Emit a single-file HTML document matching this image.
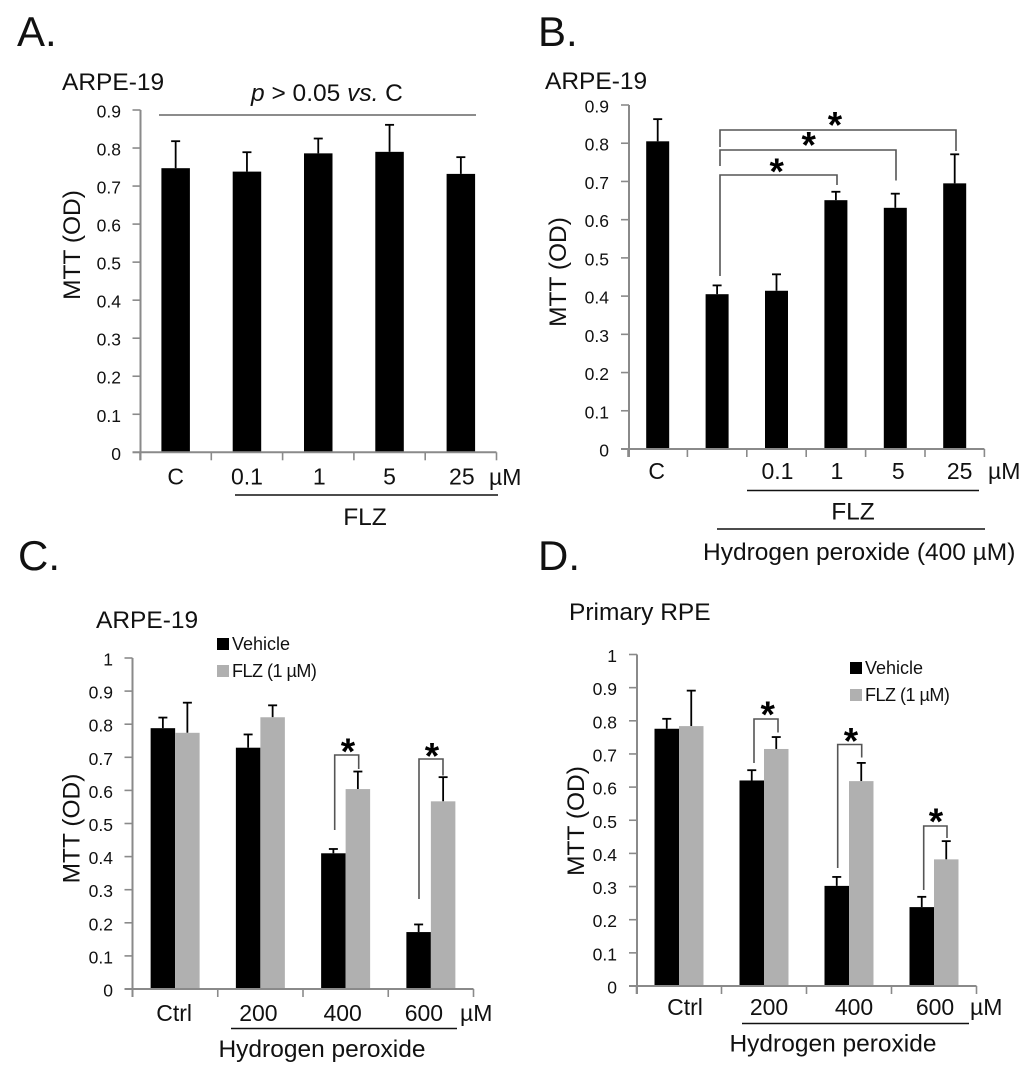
<!DOCTYPE html>
<html lang="en">
<head>
<meta charset="utf-8">
<title>MTT assay bar charts</title>
<style>
html,body{margin:0;padding:0;background:#fff;width:1024px;height:1066px;overflow:hidden}
svg{display:block}
text{font-family:"Liberation Sans",sans-serif;fill:#111}
.head{font-size:42px}
.sub{font-size:24.5px}
.ytitle{font-size:24.5px;text-anchor:middle}
.xl{font-size:23px}
.ann{font-size:24.5px}
.leg{font-size:18px}
.legflz{font-size:18px;letter-spacing:-0.5px}
.star{font-size:37px;font-weight:bold;text-anchor:middle;fill:#000}
.rule{stroke:#111;stroke-width:1.6;fill:none}
.brk{stroke:#555;stroke-width:1.6;fill:none}
</style>
</head>
<body>
<svg id="figure" xmlns="http://www.w3.org/2000/svg" width="1024" height="1066" viewBox="0 0 1024 1066">
  <g id="panel-a">
    <text class="head" x="17" y="46">A.</text>
    <text class="sub" x="62" y="90">ARPE-19</text>
    <text class="sub" x="251" y="101"><tspan font-style="italic">p</tspan> &gt; 0.05 <tspan font-style="italic">vs.</tspan> C</text>
    <line x1="159" y1="115" x2="476" y2="115" stroke="#666" stroke-width="1.5"/>
    <text class="ytitle" transform="translate(80 245) rotate(-90)">MTT (OD)</text>
    <g id="marks-a"></g>
    <text class="xl" x="489" y="485">µM</text>
    <line class="rule" x1="235" y1="495" x2="498" y2="495"/>
    <text class="sub" x="365" y="525" text-anchor="middle">FLZ</text>
  </g>

  <g id="panel-b">
    <text class="head" x="538" y="46">B.</text>
    <text class="sub" x="545" y="89">ARPE-19</text>
    <text class="ytitle" transform="translate(566 272) rotate(-90)">MTT (OD)</text>
    <g id="marks-b"></g>
    <polyline class="brk" points="720,276 720,175 837,175 837,185"/>
    <polyline class="brk" points="720,166 720,150 896,150 896,180.5"/>
    <polyline class="brk" points="720,147 720,130 956,130 956,151"/>
    <text class="star" x="776.7" y="184">*</text>
    <text class="star" x="808.7" y="157.5">*</text>
    <text class="star" x="835" y="137.5">*</text>
    <text class="xl" x="988" y="479">µM</text>
    <line class="rule" x1="747" y1="490.5" x2="979" y2="490.5"/>
    <text class="sub" x="853" y="519.5" text-anchor="middle">FLZ</text>
    <line class="rule" x1="717" y1="529" x2="985" y2="529"/>
    <text class="ann" x="703" y="560">Hydrogen peroxide (400 µM)</text>
  </g>

  <g id="panel-c">
    <text class="head" x="18" y="570">C.</text>
    <text class="sub" x="96" y="628">ARPE-19</text>
    <text class="ytitle" transform="translate(79.5 828.5) rotate(-90)">MTT (OD)</text>
    <g id="marks-c"></g>
    <g>
      <rect x="217" y="638" width="12" height="12" fill="#000"/>
      <text class="leg" x="232" y="650">Vehicle</text>
      <rect x="217" y="665" width="12" height="12" fill="#b0b0b0"/>
      <text class="legflz" x="232" y="677">FLZ (1 µM)</text>
    </g>
    <polyline class="brk" points="334.7,830 334.7,755 358.7,755 358.7,769"/>
    <polyline class="brk" points="419,899 419,759 443,759 443,775.5"/>
    <text class="star" x="348" y="764">*</text>
    <text class="star" x="432" y="768.5">*</text>
    <text class="xl" x="460" y="1021">µM</text>
    <line class="rule" x1="231" y1="1028.5" x2="457" y2="1028.5"/>
    <text class="ann" x="322" y="1057" text-anchor="middle">Hydrogen peroxide</text>
  </g>

  <g id="panel-d">
    <text class="head" x="538" y="570">D.</text>
    <text class="sub" x="569" y="620">Primary RPE</text>
    <text class="ytitle" transform="translate(584 821) rotate(-90)">MTT (OD)</text>
    <g id="marks-d"></g>
    <g>
      <rect x="850" y="662" width="12" height="12" fill="#000"/>
      <text class="leg" x="865" y="674">Vehicle</text>
      <rect x="850" y="689" width="12" height="12" fill="#b0b0b0"/>
      <text class="legflz" x="865" y="701">FLZ (1 µM)</text>
    </g>
    <polyline class="brk" points="754,763 754,719 778,719 778,732.5"/>
    <polyline class="brk" points="837.7,868 837.7,744.5 861.7,744.5 861.7,757.5"/>
    <polyline class="brk" points="923.7,890 923.7,826 947,826 947,838"/>
    <text class="star" x="767.7" y="727">*</text>
    <text class="star" x="851" y="753.5">*</text>
    <text class="star" x="936" y="834">*</text>
    <text class="xl" x="970" y="1015">µM</text>
    <line class="rule" x1="742" y1="1023.5" x2="969" y2="1023.5"/>
    <text class="ann" x="833" y="1051.5" text-anchor="middle">Hydrogen peroxide</text>
  </g>
</svg>

<script>
// ---- Chart data ----
const ticksNine = ['0','0.1','0.2','0.3','0.4','0.5','0.6','0.7','0.8','0.9'];
const ticksTen = ['0','0.1','0.2','0.3','0.4','0.5','0.6','0.7','0.8','0.9','1'];

const categoriesA = ['C','0.1','1','5','25'];
const valuesA = [0.747,0.738,0.786,0.790,0.732];
const errorsA = [0.071,0.051,0.039,0.071,0.044];

const categoriesB = ['C','','0.1','1','5','25'];
const valuesB = [0.805,0.405,0.414,0.651,0.631,0.695];
const errorsB = [0.058,0.023,0.043,0.022,0.037,0.076];

const categoriesC = ['Ctrl','200','400','600'];
const vehicleC = [0.788,0.729,0.410,0.172];
const vehicleErrC = [0.032,0.040,0.013,0.023];
const flzC = [0.774,0.821,0.604,0.567];
const flzErrC = [0.091,0.036,0.053,0.073];

const categoriesD = ['Ctrl','200','400','600'];
const vehicleD = [0.776,0.620,0.302,0.238];
const vehicleErrD = [0.030,0.031,0.027,0.031];
const flzD = [0.784,0.715,0.618,0.382];
const flzErrD = [0.107,0.036,0.055,0.055];

// ---- Drawing helpers ----
const NS = 'http://www.w3.org/2000/svg';
const AXIS_COLOR = '#8a8a8a';

function shape(parent, tag, attrs) {
  const el = document.createElementNS(NS, tag);
  for (const k in attrs) el.setAttribute(k, attrs[k]);
  parent.appendChild(el);
  return el;
}

function makeAxes(layout, tickLabels, categories) {
  const g = document.getElementById(layout.id);
  const maxTick = parseFloat(tickLabels[tickLabels.length - 1]);
  const y = v => layout.y0 - (v / maxTick) * (layout.y0 - layout.yTop);
  const band = i => layout.x0 + i * layout.band;
  const center = i => band(i) + layout.band / 2;
  return { g, y, band, center, tickLabels, categories, layout };
}

function drawAxes(ax) {
  const { g, y, band, center, tickLabels, categories, layout } = ax;
  const xEnd = band(categories.length);

  const yLine = shape(g, 'line', { x1: layout.axisX, x2: layout.axisX, y1: layout.yTop, y2: layout.y0 + 8, stroke: AXIS_COLOR, 'stroke-width': 2 });
  
  

  const xLine = shape(g, 'line', { x1: layout.axisX - 8, x2: xEnd, y1: layout.y0, y2: layout.y0, stroke: AXIS_COLOR, 'stroke-width': 2 });
  
  

  tickLabels.forEach(t => {
    const v = parseFloat(t);
    const tick = shape(g, 'line', { x1: layout.axisX - 8, x2: layout.axisX, y1: y(v), y2: y(v), stroke: AXIS_COLOR, 'stroke-width': 1.6 });
    
    
    const lab = shape(g, 'text', { x: layout.labelRight, y: y(v) + 7.5, 'text-anchor': 'end', style: 'font-size:17.5px' });
    lab.textContent = t;
    
    
  });

  for (let i = 0; i <= categories.length; i++) {
    const tick = shape(g, 'line', { x1: band(i), x2: band(i), y1: layout.y0, y2: layout.y0 + 8, stroke: AXIS_COLOR, 'stroke-width': 1.6 });
    
    
  }

  categories.forEach((c, i) => {
    if (!c) return;
    const lab = shape(g, 'text', { x: center(i) + layout.labelNudge[i], y: layout.labelY, 'text-anchor': 'middle', style: 'font-size:23px' });
    lab.textContent = c;
    
    
  });
}

function drawBar(ax, cx, width, value, err, color, barName) {
  const { g, y, layout } = ax;
  const capHalf = 4.5;
  const stem = shape(g, 'line', { x1: cx, x2: cx, y1: y(value), y2: y(value + err), stroke: '#000', 'stroke-width': 1.8 });
  
  
  const cap = shape(g, 'line', { x1: cx - capHalf, x2: cx + capHalf, y1: y(value + err), y2: y(value + err), stroke: '#000', 'stroke-width': 1.8 });
  
  
  const bar = shape(g, 'rect', { x: cx - width / 2, y: y(value), width: width, height: layout.y0 - y(value), fill: color });
  
  
}

function singleChart(layout, tickLabels, categories, values, errors) {
  const ax = makeAxes(layout, tickLabels, categories);
  values.forEach((v, i) => drawBar(ax, ax.center(i), layout.barWidth, v, errors[i], '#000', 'bar'));
  drawAxes(ax);
}

function pairedChart(layout, tickLabels, categories, vehicle, vehicleErr, flz, flzErr) {
  const ax = makeAxes(layout, tickLabels, categories);
  const w = layout.barWidth;
  vehicle.forEach((v, i) => drawBar(ax, ax.center(i) - w / 2, w, v, vehicleErr[i], '#000', 'bar-vehicle'));
  flz.forEach((v, i) => drawBar(ax, ax.center(i) + w / 2, w, v, flzErr[i], '#b0b0b0', 'bar-flz'));
  drawAxes(ax);
}

singleChart(
  { id: 'marks-a', axisX: 140.5, x0: 140, band: 71.3, y0: 452.3, yTop: 110, barWidth: 28.5, labelRight: 121, labelY: 484.5, labelNudge: [0,0,1,0,1] },
  ticksNine, categoriesA, valuesA, errorsA
);
singleChart(
  { id: 'marks-b', axisX: 629, x0: 628, band: 59.4, y0: 449, yTop: 105, barWidth: 23, labelRight: 609, labelY: 479, labelNudge: [-1,0,1,1,3,5] },
  ticksNine, categoriesB, valuesB, errorsB
);
pairedChart(
  { id: 'marks-c', axisX: 132.5, x0: 132.5, band: 85.25, y0: 989, yTop: 658, barWidth: 24.5, labelRight: 113, labelY: 1021, labelNudge: [-1,-2,-3,-7] },
  ticksTen, categoriesC, vehicleC, vehicleErrC, flzC, flzErrC
);
pairedChart(
  { id: 'marks-d', axisX: 637, x0: 636.5, band: 85, y0: 986, yTop: 654.5, barWidth: 24.5, labelRight: 617, labelY: 1015, labelNudge: [6,5,5,1] },
  ticksTen, categoriesD, vehicleD, vehicleErrD, flzD, flzErrD
);
</script>
</body>
</html>
